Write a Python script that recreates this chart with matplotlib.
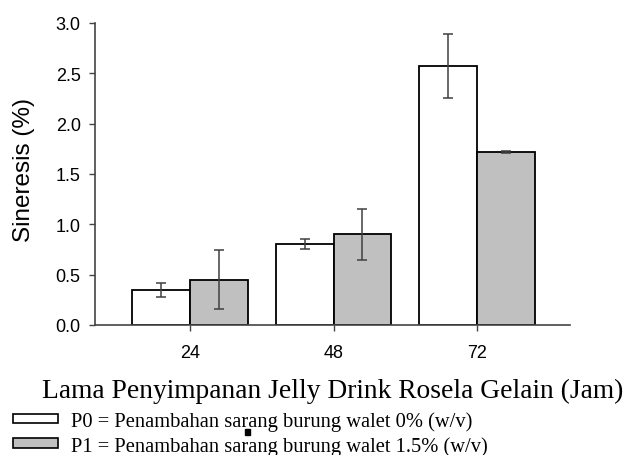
import numpy as np
import matplotlib.pyplot as plt
from matplotlib.patches import Patch, Rectangle

# storage time (hours) and syneresis values
hours = ["24", "48", "72"]
p0_mean = [0.35, 0.80, 2.57]
p0_err = [0.07, 0.05, 0.32]
p1_mean = [0.45, 0.90, 1.72]
p1_err = [0.29, 0.25, 0.01]

series_labels = [
    "P0 = Penambahan sarang burung walet 0% (w/v)",
    "P1 = Penambahan sarang burung walet 1.5% (w/v)",
]

plt.rcParams["font.family"] = "Liberation Sans"

fig = plt.figure(figsize=(6.27, 4.56), dpi=100)
ax = fig.add_axes([0.1515, 0.2851, 0.7576, 0.6623])

x = np.arange(len(hours))
w = 0.404
err_kw = dict(ecolor="#404040", elinewidth=1.1, capsize=3.3, capthick=1.1)
ax.bar(x - w / 2, p0_mean, w, yerr=p0_err, color="white",
       edgecolor="black", linewidth=1.3, error_kw=err_kw)
ax.bar(x + w / 2, p1_mean, w, yerr=p1_err, color="#c0c0c0",
       edgecolor="black", linewidth=1.3, error_kw=err_kw)

ax.set_xlim(-0.662, 2.648)
ax.set_ylim(0, 3.0)
yt = np.arange(0, 3.01, 0.5)
ax.set_yticks(yt)
ax.set_yticklabels([f"{v:.1f}" for v in yt])
ax.set_xticks(x)
ax.set_xticklabels(hours)
ax.tick_params(axis="y", labelsize=13, length=4.3, width=1, color="#444444", pad=6)
ax.tick_params(axis="x", labelsize=13, length=4.3, width=1, color="#444444", pad=9.5)

for s in ["top", "right"]:
    ax.spines[s].set_visible(False)
for s in ["left", "bottom"]:
    ax.spines[s].set_color("#444444")
    ax.spines[s].set_linewidth(1.2)

ax.set_ylabel("Sineresis (%)", fontsize=17.5)
ax.yaxis.set_label_coords(-0.127, 0.515)
ax.set_xlabel("Lama Penyimpanan Jelly Drink Rosela Gelain (Jam)",
              fontsize=19.8, family="Liberation Serif", labelpad=12)

handles = [Patch(facecolor="white", edgecolor="black", linewidth=1.2),
           Patch(facecolor="#c0c0c0", edgecolor="black", linewidth=1.2)]
fig.legend(handles, series_labels, loc="upper left",
           bbox_to_anchor=(13 / 627, 1 - 412 / 456), frameon=False,
           prop={"family": "Liberation Serif", "size": 14.8},
           handlelength=2.2, handleheight=0.35, handletextpad=0.6,
           labelspacing=0.25, borderaxespad=0, borderpad=0)

# small stray square under the first legend row
fig.patches.append(Rectangle((245 / 627, 1 - 436 / 456), 5 / 627, 6 / 456,
                             transform=fig.transFigure, color="black"))

fig.savefig("out.png", dpi=100)
